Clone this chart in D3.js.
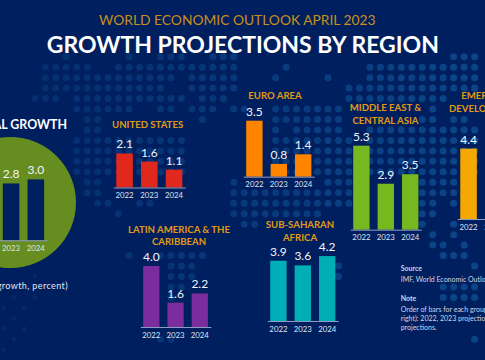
<!DOCTYPE html>
<html>
<head>
<meta charset="utf-8">
<script src="https://cdnjs.cloudflare.com/ajax/libs/d3/7.8.5/d3.min.js"></script>
<style>
html, body { margin: 0; padding: 0; background: #001f5f; overflow: hidden; }
svg { display: block; }
text { font-family: Lato, "Open Sans", sans-serif; }
</style>
</head>
<body>
<svg width="485" height="360"></svg>
<script>
// data
const years = ["2022", "2023", "2024"];
const globalVals = [3.4, 2.8, 3.0];
const usVals = [2.1, 1.6, 1.1];
const euroVals = [3.5, 0.8, 1.4];
const meVals = [5.3, 2.9, 3.5];
const asiaVals = [4.4, 5.3, 5.1];
const latamVals = [4.0, 1.6, 2.2];
const ssaVals = [3.9, 3.6, 4.2];

// world map behind the charts: row -> columns of the dot grid
const mapRows = [
  [0, "6 12 15-17 20-22 43-45"], [1, "4-8 11-22 27 35-45"], [2, "4-10 11-16 18-22 26 31 35-45"],
  [3, "4-15 18-22 33-45"], [4, "3-5 7-17 19-21 33-42"], [5, "7-12 15 16 18-20 22 23 26-32 41"],
  [6, "8 9 19 26-32 40 41 43 44"], [7, "8 9 26 28-32 35-45"], [8, "7-17 26-33 35-45"],
  [9, "7-17 26-33 35-45"], [10, "7-17 26-33 35-45"], [11, "7-17 26-33 35-45"],
  [12, "8 9 22 31-33 40-43"], [13, "8 9 22-33 40-43"], [14, "9 10 13 14 22-33 40 41 43"],
  [15, "11 22-30 40 41"], [16, "23 24 40 43"], [17, "41 43"],
  [18, "41 42 44"], [19, "12 15-19 42-44"], [20, "16-18 32 45"],
  [21, "16-18 32"], [22, "16 17 42-45"], [23, "16 42-45"], [27, "15 16 45"]
];
const faintRows = [
  [21, "3"], [23, "1 3"], [24, "0 2"], [25, "1"], [26, "0 2"], [27, "1"], [28, "0"]
];

const panels = [
  { vals: usVals, color: "#e0291c", left: 113.3, width: 72, base: 187.5, unit: 16.2, title: ["UNITED STATES"], tx: 147.6, ty: 125 },
  { vals: euroVals, color: "#ff8400", left: 243.3, width: 71, base: 176.7, unit: 16, title: ["EURO AREA"], tx: 275, ty: 96 },
  { vals: meVals, color: "#76b81e", left: 350.3, width: 71, base: 229.7, unit: 15.85, title: ["MIDDLE EAST &", "CENTRAL ASIA"], tx: 385.5, ty: 108 },
  { vals: asiaVals, color: "#f5a800", left: 457.3, width: 72, base: 219, unit: 16, title: ["EMERGING &", "DEVELOPING ASIA"], tx: 491, ty: 96 },
  { vals: latamVals, color: "#7b2d9e", left: 140.3, width: 70.5, base: 327, unit: 15.25, title: ["LATIN AMERICA & THE", "CARIBBEAN"], tx: 179, ty: 229.3 },
  { vals: ssaVals, color: "#00aeb8", left: 267.3, width: 71, base: 321, unit: 15.46, title: ["SUB-SAHARAN", "AFRICA"], tx: 300, ty: 225 },
  { vals: globalVals, color: "#001f5f", left: -24.9, width: 72, base: 240.3, unit: 20.3, title: [], tx: 0, ty: 0 }
];

const svg = d3.select("svg");

// dot map
const col = d3.scaleLinear().domain([0, 45]).range([3.4, 474.6]);
const row = d3.scaleLinear().domain([0, 27]).range([56.7, 339.3]);
const dotColor = d3.scaleLinear().domain([0, 485]).range(["#042c6c", "#0b4689"]);

function expand(rows) {
  let out = [];
  rows.forEach(([r, spec]) => {
    spec.split(" ").forEach(part => {
      const [a, b] = part.split("-").map(Number);
      for (let c = a; c <= (b === undefined ? a : b); c++) out.push([r, c]);
    });
  });
  return out;
}

svg.append("g").selectAll("circle")
  .data(expand(mapRows))
  .enter().append("circle")
  .attr("cx", d => col(d[1]))
  .attr("cy", d => row(d[0]))
  .attr("r", 3.5)
  .attr("fill", d => dotColor(col(d[1])));

svg.append("g").selectAll("circle")
  .data(expand(faintRows))
  .enter().append("circle")
  .attr("cx", d => col(d[1]))
  .attr("cy", d => row(d[0]))
  .attr("r", 2.4)
  .attr("fill", "#042a68");

// header
svg.append("text").attr("x", 237.3).attr("y", 25).attr("text-anchor", "middle")
  .attr("font-size", 13.8).attr("fill", "#c8901a").text("WORLD ECONOMIC OUTLOOK APRIL 2023");
svg.append("text").attr("x", 242.8).attr("y", 53.3).attr("text-anchor", "middle")
  .attr("font-size", 23).attr("font-weight", 700).attr("fill", "#fff").text("GROWTH PROJECTIONS BY REGION");

// global growth circle
svg.append("circle").attr("cx", 10.5).attr("cy", 202.5).attr("r", 65.5)
  .attr("fill", "#6b941c").attr("fill-opacity", 0.95);
svg.append("text").attr("x", 67).attr("y", 128.7).attr("text-anchor", "end")
  .attr("font-size", 12.4).attr("font-weight", 700).attr("fill", "#fff").text("GLOBAL GROWTH");
svg.append("text").attr("x", 68).attr("y", 289).attr("text-anchor", "end")
  .attr("font-size", 9).attr("letter-spacing", 0.4).attr("fill", "#e4e8f2").text("(real GDP growth, percent)");

// one small bar chart per region
function drawPanel(p) {
  const g = svg.append("g");
  const x = d3.scaleBand().domain(years)
    .range([p.left, p.left + p.width])
    .paddingInner(0.33).paddingOuter(0.12);
  const maxV = d3.max(p.vals);
  const y = d3.scaleLinear().domain([0, maxV]).range([p.base, p.base - maxV * p.unit]);
  const rows = years.map((yr, i) => ({ yr: yr, v: p.vals[i] }));

  g.selectAll("rect").data(rows).enter().append("rect")
    .attr("x", d => x(d.yr))
    .attr("y", d => y(d.v))
    .attr("width", x.bandwidth())
    .attr("height", d => y(0) - y(d.v))
    .attr("fill", p.color);

  g.selectAll(".val").data(rows).enter().append("text")
    .attr("class", "val")
    .attr("x", d => x(d.yr) + x.bandwidth() / 2)
    .attr("y", d => y(d.v) - 5)
    .attr("text-anchor", "middle")
    .attr("font-size", 12)
    .attr("fill", "#f2f4fa")
    .text(d => d.v.toFixed(1));

  const axis = g.append("g").attr("transform", `translate(0,${p.base})`)
    .call(d3.axisBottom(x).tickSize(0).tickPadding(5).tickSizeOuter(0));
  axis.select(".domain").attr("stroke", "#8c9cc6");
  axis.selectAll("text").attr("font-size", 7.8).attr("fill", "#dfe4f0")
    .style("font-family", "Lato, sans-serif");

  p.title.forEach((line, i) => {
    g.append("text").attr("x", p.tx).attr("y", p.ty + 3.2 + i * 12.8)
      .attr("text-anchor", "middle")
      .attr("font-size", 9.6).attr("font-weight", 700).attr("fill", "#e09a14")
      .text(line);
  });
}
panels.forEach(drawPanel);

// source and note
const foot = [
  { y: 271, t: "Source", b: true }, { y: 282, t: "IMF, World Economic Outlook, April 2023." },
  { y: 301, t: "Note", b: true }, { y: 312, t: "Order of bars for each group indicates (left to" },
  { y: 321, t: "right): 2022, 2023 projections, and 2024" }, { y: 330, t: "projections." }
];
svg.append("g").selectAll("text").data(foot).enter().append("text")
  .attr("x", 400.7).attr("y", d => d.y)
  .attr("font-size", 7).attr("font-weight", d => d.b ? 700 : 400)
  .attr("fill", "#cfd6e6").text(d => d.t);
</script>
</body>
</html>
